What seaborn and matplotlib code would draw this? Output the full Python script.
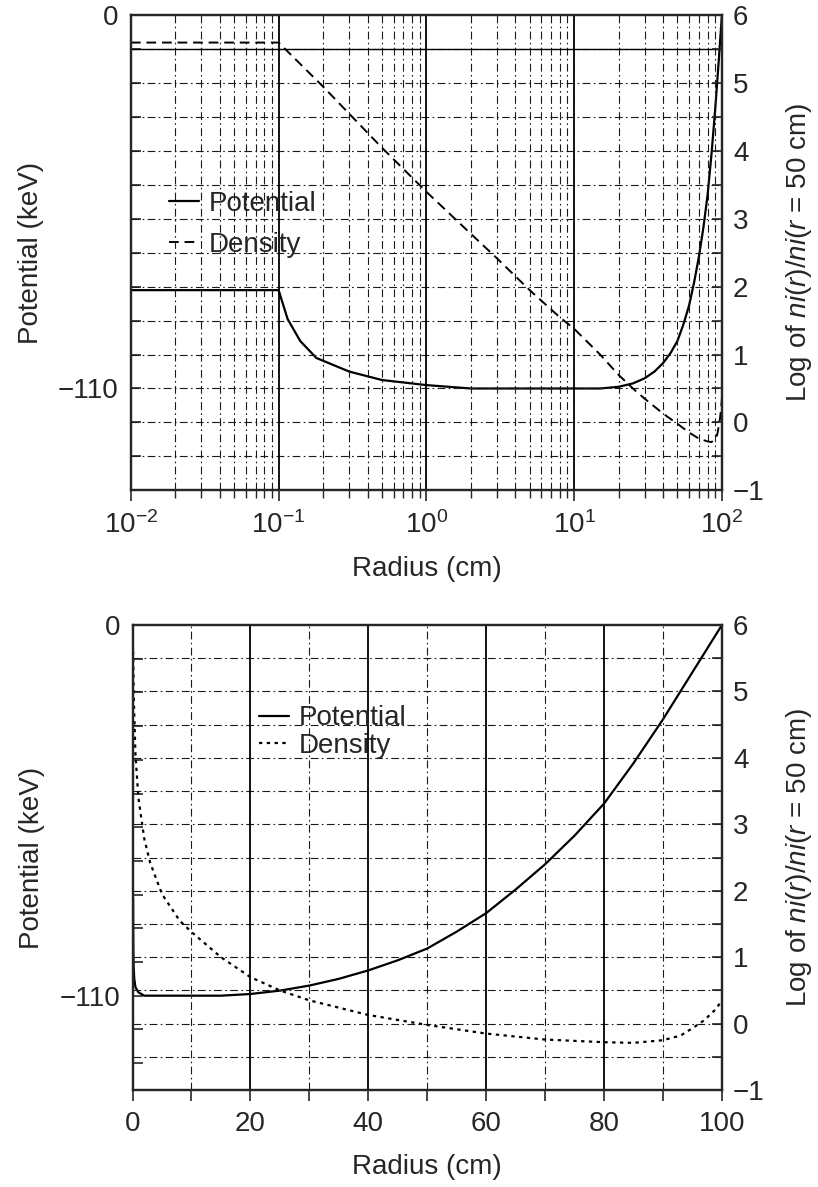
import numpy as np
import pandas as pd
import matplotlib
matplotlib.use("Agg")
import matplotlib.pyplot as plt
from matplotlib.ticker import MultipleLocator, FixedLocator, LogLocator, NullFormatter
import seaborn as sns

# radius grid (cm) and the two profiles
radius_pot = [0.01, 0.1, 0.105, 0.115, 0.14, 0.18, 0.3, 0.5, 1, 2, 5, 10, 15, 20, 25, 30,
              35, 40, 45, 50, 55, 60, 65, 70, 75, 80, 85, 90, 95, 100]
potential_kev = [-81, -81, -84, -89.5, -96, -101, -105, -107.5, -109, -110, -110, -110, -110,
                 -109.5, -108.5, -107, -105, -102.5, -99.5, -96, -91, -85.5, -78.5, -71,
                 -62.5, -53, -41, -28, -14, 0]

radius_den = [0.01, 0.1, 0.2, 0.5, 1, 2, 3, 5, 8, 10, 15, 20, 25, 30, 40, 50, 60, 70, 80,
              85, 90, 93, 95, 97, 99, 100]
log_density = [5.6, 5.6, 4.95, 4.05, 3.4, 2.78, 2.42, 1.95, 1.55, 1.38, 1.0, 0.7, 0.5, 0.35,
               0.13, -0.02, -0.15, -0.24, -0.28, -0.29, -0.25, -0.18, -0.07, 0.05, 0.22, 0.35]

pot_df = pd.DataFrame({"radius": radius_pot, "potential": potential_kev})
den_df = pd.DataFrame({"radius": radius_den, "density": log_density})

sns.set_style("ticks")
plt.rcParams["font.family"] = ["Liberation Sans", "DejaVu Sans"]
plt.rcParams["mathtext.fontset"] = "custom"
plt.rcParams["mathtext.rm"] = "Liberation Sans"
plt.rcParams["mathtext.it"] = "Liberation Sans:italic"
plt.rcParams["axes.linewidth"] = 1.6
FS = 20

fig = plt.figure(figsize=(8.18, 11.87), dpi=100)
ax_top = fig.add_axes([0.160, 0.587, 0.7225, 0.400])
ax_bot = fig.add_axes([0.162, 0.0817, 0.7205, 0.3917])

grid_kw = dict(color="0.1", lw=0.8, ls=(0, (7, 3, 1.5, 3)), zorder=0)


def style_axes(ax, ax2, ylow):
    ax.set_ylim(ylow, 0)
    ax.yaxis.set_major_locator(FixedLocator([0, -110]))
    ax.yaxis.set_minor_locator(MultipleLocator(10))
    ax.tick_params(axis="y", which="both", direction="in", length=7, width=1.2,
                   labelsize=FS, pad=9)
    ax.set_ylabel("Potential (keV)", fontsize=FS, labelpad=10)
    ax2.set_ylim(-1, 6)
    ax2.yaxis.set_major_locator(MultipleLocator(1))
    ax2.yaxis.set_minor_locator(MultipleLocator(0.5))
    ax2.tick_params(axis="y", which="both", direction="in", length=7, width=1.2,
                    labelsize=FS, pad=8)
    ax2.set_ylabel(r"Log of $\mathit{ni(r)/ni(r}$ = 50 cm)", fontsize=FS, labelpad=14)
    for v in np.arange(-0.5, 6, 0.5):
        ax2.axhline(v, **grid_kw)
    ax.set_xlabel("Radius (cm)", fontsize=FS, labelpad=12)
    for s in ax2.spines.values():
        s.set_linewidth(1.6)


# ---------- top panel: log radius ----------
ax2_top = ax_top.twinx()
ax_top.set_xscale("log")
ax_top.set_xlim(0.01, 100)
style_axes(ax_top, ax2_top, -140)
for dec in [0.01, 0.1, 1, 10]:
    for m in range(2, 10):
        ax2_top.axvline(dec * m, **grid_kw)
for dec in [0.1, 1, 10]:
    ax2_top.axvline(dec, color="black", lw=1.3, zorder=0)
ax2_top.axhline(5.5, color="black", lw=1.0, zorder=0)
ax_top.xaxis.set_major_locator(LogLocator(base=10, numticks=10))
ax_top.xaxis.set_minor_locator(LogLocator(base=10, subs=np.arange(2, 10), numticks=10))
ax_top.xaxis.set_minor_formatter(NullFormatter())
ax_top.tick_params(axis="x", which="major", direction="out", length=8, width=1.2,
                   labelsize=FS, pad=7)
ax_top.tick_params(axis="x", which="minor", direction="out", length=6, width=1.0)

sns.lineplot(data=pot_df, x="radius", y="potential", ax=ax_top, color="black",
             lw=1.6, label="Potential", legend=False)
sns.lineplot(data=den_df, x="radius", y="density", ax=ax2_top, color="black",
             lw=1.4, linestyle=(0, (5, 3)), label="Density", legend=False)
ax2_top.set_xlim(0.01, 100)

h1, l1 = ax_top.get_legend_handles_labels()
h2, l2 = ax2_top.get_legend_handles_labels()
ax2_top.legend(h1 + h2, l1 + l2, loc="center left", bbox_to_anchor=(0.022, 0.56),
               frameon=False, fontsize=FS, handlelength=1.1, handletextpad=0.35,
               labelspacing=0.55)

# ---------- bottom panel: linear radius ----------
ax2_bot = ax_bot.twinx()
ax_bot.set_xlim(0, 100)
style_axes(ax_bot, ax2_bot, -138)
for x in [10, 30, 50, 70, 90]:
    ax2_bot.axvline(x, **grid_kw)
for x in [20, 40, 60, 80]:
    ax2_bot.axvline(x, color="black", lw=1.3, zorder=0)
ax_bot.xaxis.set_major_locator(MultipleLocator(20))
ax_bot.xaxis.set_minor_locator(MultipleLocator(10))
ax_bot.tick_params(axis="x", which="both", direction="out", length=8, width=1.2,
                   labelsize=FS, pad=7)

sns.lineplot(data=pot_df, x="radius", y="potential", ax=ax_bot, color="black",
             lw=1.6, label="Potential", legend=False)
sns.lineplot(data=den_df, x="radius", y="density", ax=ax2_bot, color="black",
             lw=1.6, linestyle=(0, (1.5, 2)), label="Density", legend=False)
ax2_bot.set_xlim(0, 100)

h1, l1 = ax_bot.get_legend_handles_labels()
h2, l2 = ax2_bot.get_legend_handles_labels()
ax2_bot.legend(h1 + h2, l1 + l2, loc="center left", bbox_to_anchor=(0.172, 0.77),
               frameon=False, fontsize=FS, handlelength=1.1, handletextpad=0.35,
               labelspacing=0.05)

fig.savefig("out.png", dpi=100)
